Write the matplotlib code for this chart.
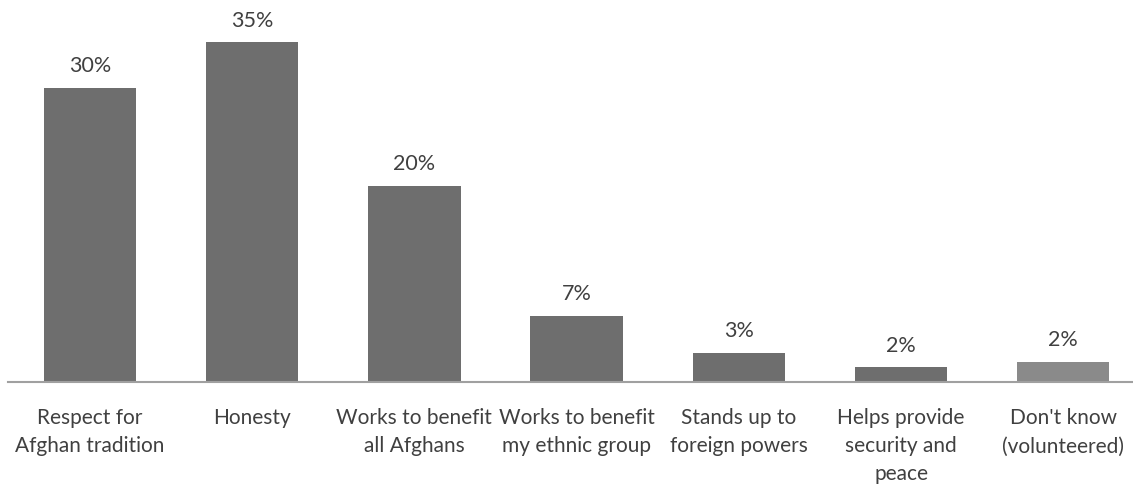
import matplotlib.pyplot as plt
import numpy as np

# survey categories and shares (%)
categories = ["Respect for\nAfghan tradition", "Honesty", "Works to benefit\nall Afghans",
              "Works to benefit\nmy ethnic group", "Stands up to\nforeign powers",
              "Helps provide\nsecurity and\npeace", "Don't know\n(volunteered)"]
values = [30.3, 35.0, 20.2, 6.8, 3.0, 1.5, 2.1]
value_labels = ["30%", "35%", "20%", "7%", "3%", "2%", "2%"]

plt.rcParams['font.family'] = ['Lato', 'DejaVu Sans']

fig = plt.figure(figsize=(11.33, 4.84), dpi=100)
ax = fig.add_axes([0.007, 0.2107, 0.993, 0.748])

x = np.arange(len(categories))
colors = ["#6e6e6e"] * (len(categories) - 1) + ["#8a8a8a"]
ax.bar(x, values, width=0.57, color=colors)

for xi, v, lab in zip(x, values, value_labels):
    ax.text(xi, v + 1.2, lab, ha="center", va="bottom", fontsize=15.5, color="#404040")

ax.set_xticks(x)
ax.set_xticklabels(categories, fontsize=15, color="#404040", linespacing=1.5)
ax.tick_params(axis="x", length=0, pad=19)
ax.set_yticks([])
ax.set_xlim(-0.506, 6.43)
ax.set_ylim(0, 37.3)

for s in ["top", "right", "left"]:
    ax.spines[s].set_visible(False)
ax.spines["bottom"].set_color("#a0a0a0")
ax.spines["bottom"].set_linewidth(1.5)

plt.savefig("out.png", dpi=100)
